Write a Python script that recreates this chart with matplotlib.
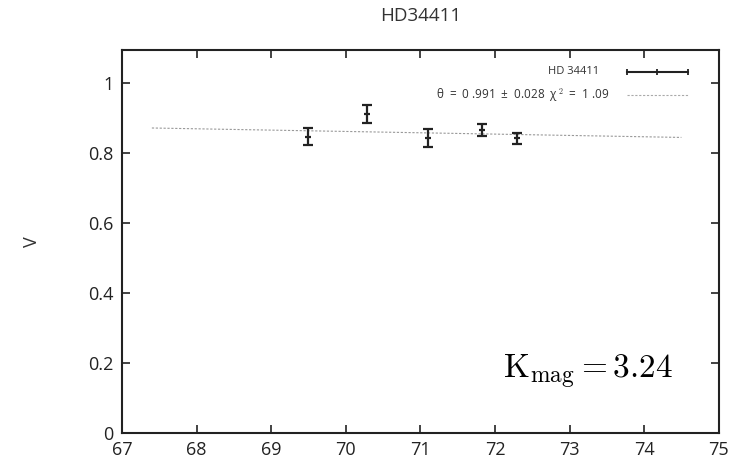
import numpy as np
import matplotlib.pyplot as plt
from matplotlib.lines import Line2D

# observed visibilities
baseline = [69.5, 70.28, 71.1, 71.83, 72.29]
vis = [0.847, 0.911, 0.844, 0.866, 0.843]
vis_err = [0.024, 0.026, 0.026, 0.018, 0.016]

# uniform disk fit curve
fit_x = [67.4, 74.5]
fit_v = [0.872, 0.845]

star = "HD34411"
key_star = "HD 34411"
key_fit = r"θ  =  0 .991  ±  0.028  χ$^{\,2}$  =  1 .09"

plt.rcParams['font.family'] = ['Open Sans', 'DejaVu Sans']
plt.rcParams['mathtext.fontset'] = 'cm'

fig = plt.figure(figsize=(7.51, 4.65), dpi=100)
ax = fig.add_axes([0.1625, 0.0688, 0.7945, 0.8237])

ax.plot(fit_x, fit_v, color='#999999', lw=0.8, ls=(0, (2, 1.5)))
ax.errorbar(baseline, vis, yerr=vis_err, fmt='none', ecolor='#222222',
            elinewidth=1.6, capsize=3.5, capthick=1.6)
ax.plot(baseline, vis, ls='none', marker='_', ms=5, mew=1.6, color='#222222')

ax.set_xlim(67, 75)
ax.set_ylim(0, 1.095)
ax.set_xticks(range(67, 76))
ax.set_yticks([0, 0.2, 0.4, 0.6, 0.8, 1])
ax.set_yticklabels(['0', '0.2', '0.4', '0.6', '0.8', '1'])
ax.tick_params(direction='in', top=True, right=True, length=6, width=1.2,
               labelsize=13, colors='#222222', pad=6)
for s in ax.spines.values():
    s.set_linewidth(1.5)
    s.set_color('#222222')

ax.set_ylabel('V', fontsize=13, labelpad=34, color='#333333')
ax.set_title(star, fontsize=13.5, pad=21, color='#333333')

# key, gnuplot style
ax.text(0.80, 0.943, key_star, transform=ax.transAxes, ha='right',
        va='center', fontsize=8, color='#333333')
ax.add_line(Line2D([0.846, 0.948], [0.943, 0.943], transform=ax.transAxes,
                   color='#222222', lw=1.5))
ax.add_line(Line2D([0.846, 0.897, 0.948], [0.943] * 3, transform=ax.transAxes,
                   ls='none', marker='|', ms=5, mew=1.3, color='#222222'))
ax.text(0.817, 0.883, key_fit, transform=ax.transAxes, ha='right',
        va='center', fontsize=8.5, color='#333333')
ax.add_line(Line2D([0.846, 0.948], [0.883, 0.883], transform=ax.transAxes,
                   color='#aaaaaa', lw=0.8, ls=(0, (2, 1.5))))

ax.text(0.923, 0.16, r'$\mathrm{K_{mag}} = 3.24$', transform=ax.transAxes,
        ha='right', va='center', fontsize=24)

fig.savefig('out.png', dpi=100)
